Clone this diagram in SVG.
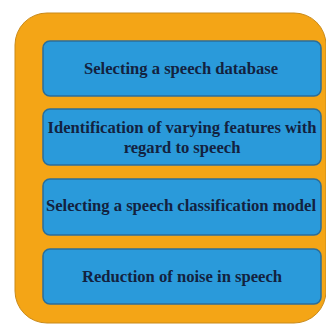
<svg xmlns="http://www.w3.org/2000/svg" width="326" height="326" viewBox="0 0 326 326">
  <style>
    .frame { fill: #F4A516; stroke: #C98A1A; stroke-width: 1; }
    .step rect { fill: #2A9ADA; stroke: #2B6E9A; stroke-width: 1.5; }
    .step text { font-family: "Liberation Serif", "Times New Roman", serif; font-weight: bold; font-size: 16.6px; fill: #13223F; text-anchor: middle; }
  </style>
  <rect width="326" height="326" fill="#FFFFFF"/>
  <!-- outer container -->
  <rect class="frame" x="15" y="13" width="311" height="310" rx="32" ry="32"/>

  <g id="step-database" class="step">
    <rect x="43" y="41" width="278" height="55" rx="7"/>
    <text x="181" y="74">Selecting a speech database</text>
  </g>

  <g id="step-features" class="step">
    <rect x="43" y="109" width="278" height="56" rx="7"/>
    <text x="182" y="133">Identification of varying features with</text>
    <text x="182" y="153">regard to speech</text>
  </g>

  <g id="step-model" class="step">
    <rect x="43" y="179" width="278" height="56" rx="7"/>
    <text x="181" y="211">Selecting a speech classification model</text>
  </g>

  <g id="step-noise" class="step">
    <rect x="43" y="249" width="278" height="55" rx="7"/>
    <text x="182" y="282">Reduction of noise in speech</text>
  </g>

  <g id="connectors"/>
</svg>
